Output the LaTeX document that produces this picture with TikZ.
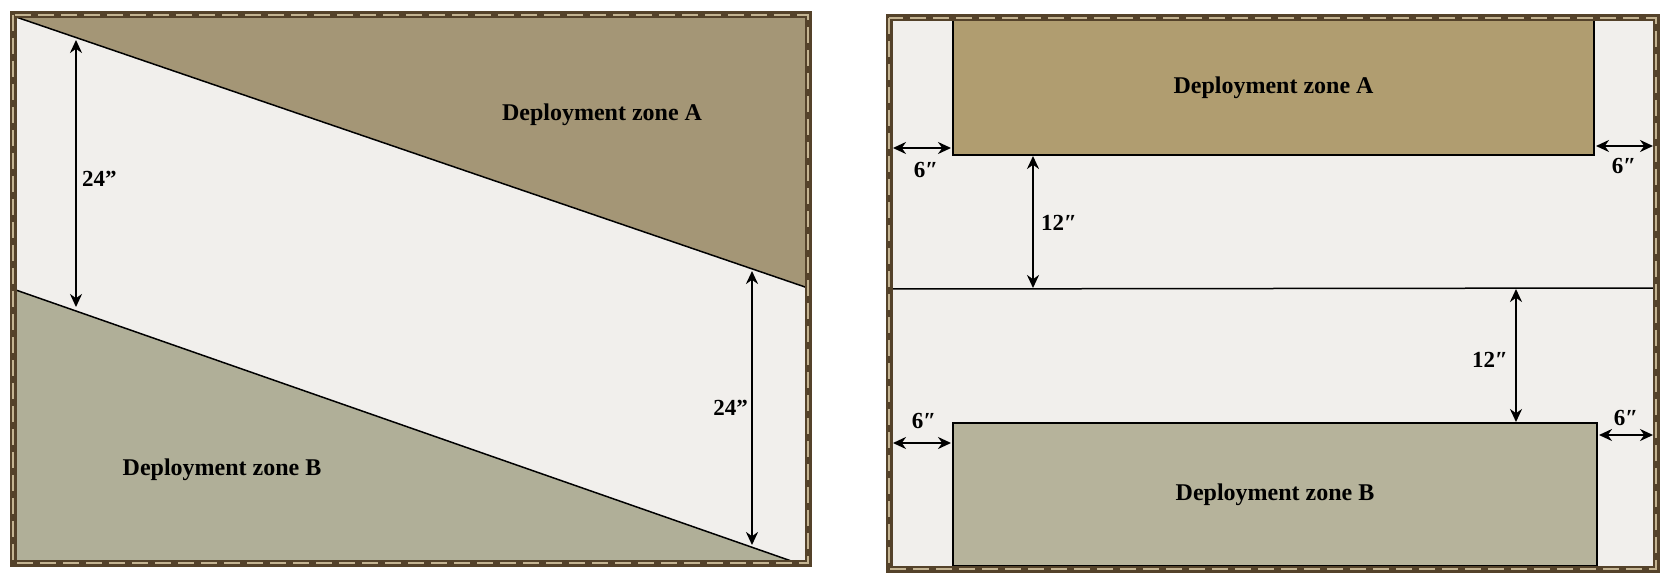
\documentclass[tikz,border=0pt]{standalone}
\usepackage{fontspec}
\setmainfont{Liberation Serif}
\usetikzlibrary{arrows.meta}
\definecolor{framebrown}{RGB}{84,66,42}
\definecolor{frametrim}{RGB}{196,180,146}
\definecolor{boardwhite}{RGB}{241,239,236}
\definecolor{zonetanl}{RGB}{164,150,118}
\definecolor{zonegreyl}{RGB}{176,175,152}
\definecolor{zonetanr}{RGB}{176,157,112}
\definecolor{zonegreyr}{RGB}{182,179,155}

\begin{document}
\begin{tikzpicture}[x=1pt, y=-1pt,
zone_style/.style={draw=black, line width=1.5pt},
zone_box/.style={rectangle, draw=black, line width=1.5pt, inner sep=0pt, font=\fontsize{24}{28}\selectfont\bfseries},
frame_style/.style={draw=framebrown, line width=7pt},
frame_trim/.style={draw=frametrim, line width=1.4pt, dash pattern=on 16pt off 7pt},
dim_style/.style={draw=black, line width=2.4pt, {Stealth[length=13pt,width=12pt]}-{Stealth[length=13pt,width=12pt]}},
label_style/.style={inner sep=0pt, font=\fontsize{23}{27}\selectfont\bfseries},
zone_label/.style={inner sep=0pt, font=\fontsize{24}{28}\selectfont\bfseries}]
\useasboundingbox (0,0) rectangle (1671,583);
\fill[white] (0,0) rectangle (1671,583);

% left board
\fill[boardwhite] (13,15) rectangle (808,563);
\coordinate (a_start) at (16,17);
\coordinate (a_end) at (808,288);
\coordinate (b_start) at (13,289);
\coordinate (b_end) at (797,563);
\fill[zonetanl] (a_start) -- (a_end) -- (808,15) -- (13,15) -- cycle;
\fill[zonegreyl] (b_start) -- (b_end) -- (13,563) -- cycle;
\draw[zone_style] (a_start) -- (a_end);
\draw[zone_style] (b_start) -- (b_end);
\draw[frame_style] (13,15) rectangle (808,563);
\draw[frame_trim] (13,15) rectangle (808,563);

\node[zone_label] (zone_a_l) at (602,115) {Deployment zone A};
\node[zone_label] (zone_b_l) at (222,470) {Deployment zone B};

\coordinate (l_top) at (76,40);
\coordinate (l_bot) at (76,307);
\coordinate (r_top) at (752,271);
\coordinate (r_bot) at (752,545);
\draw[dim_style] (l_top) -- (l_bot);
\draw[dim_style] (r_top) -- (r_bot);
\node[label_style, anchor=west] (gap_l) at (82,179) {24"};
\node[label_style, anchor=east] (gap_r) at (748,408) {24"};

% right board
\fill[boardwhite] (889,18) rectangle (1656,569);
\node[zone_box, fill=zonetanr, minimum width=641pt, minimum height=135pt] (zone_a) at (1273.5,87.5) {Deployment zone A};
\node[zone_box, fill=zonegreyr, minimum width=644pt, minimum height=143pt] (zone_b) at (1275,494.5) {Deployment zone B};
\coordinate (mid_l) at (889,289);
\coordinate (mid_r) at (1656,288);
\draw[zone_style] (mid_l) -- (mid_r);
\draw[frame_style] (889,18) rectangle (1656,569);
\draw[frame_trim] (889,18) rectangle (1656,569);

\coordinate (tl_out) at (893,148);
\coordinate (tl_in) at (951,148);
\coordinate (tr_in) at (1596,146);
\coordinate (tr_out) at (1653,146);
\coordinate (bl_out) at (893,443);
\coordinate (bl_in) at (951,443);
\coordinate (br_in) at (1599,435);
\coordinate (br_out) at (1653,435);
\coordinate (gap_a_top) at (1033,156);
\coordinate (gap_a_bot) at (1033,288);
\coordinate (gap_b_top) at (1516,289);
\coordinate (gap_b_bot) at (1516,422);
\draw[dim_style] (tl_out) -- (tl_in);
\draw[dim_style] (tr_in) -- (tr_out);
\draw[dim_style] (bl_out) -- (bl_in);
\draw[dim_style] (br_in) -- (br_out);
\draw[dim_style] (gap_a_top) -- (gap_a_bot);
\draw[dim_style] (gap_b_top) -- (gap_b_bot);
\node[label_style] (edge_tl) at (926,170) {6″};
\node[label_style] (edge_tr) at (1624,166) {6″};
\node[label_style] (edge_bl) at (924,421) {6″};
\node[label_style] (edge_br) at (1626,418) {6″};
\node[label_style, anchor=west] (gap_a) at (1041,223) {12″};
\node[label_style, anchor=east] (gap_b) at (1508,360) {12″};

\end{tikzpicture}
\end{document}
